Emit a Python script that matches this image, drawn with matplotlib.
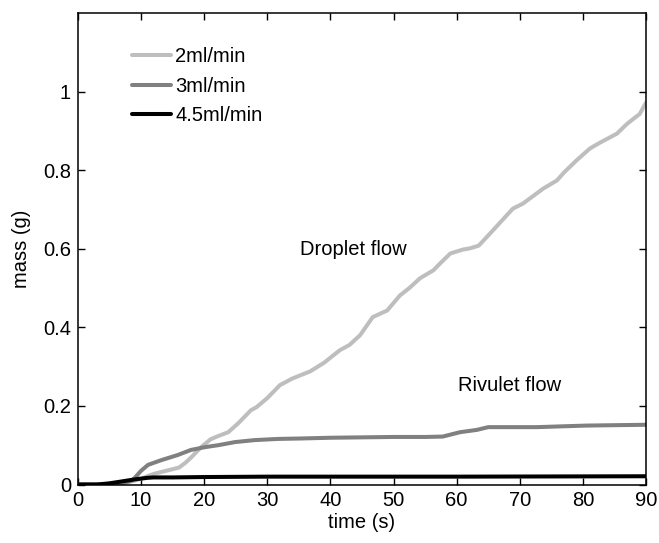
import matplotlib
matplotlib.use("Agg")
import matplotlib.pyplot as plt

plt.rcParams['font.family'] = ['Liberation Sans', 'DejaVu Sans']

t_2 = [0, 5, 7, 9, 10, 12, 14, 16, 17, 18, 19.5, 21, 22, 23.8, 25.4, 27.4, 28.3, 30, 32, 34,
       36.8, 39, 41.5, 43, 44.7, 46.7, 49, 51, 52.5, 54.2, 56.3, 57.4, 59, 61, 62.1, 63.5,
       65.3, 66.9, 68.9, 70.5, 71.6, 73.7, 75.9, 77, 79, 81.1, 82.7, 85.4, 87, 89, 90]
m_2 = [0, 0, 0.002, 0.01, 0.015, 0.027, 0.035, 0.043, 0.055, 0.07, 0.095, 0.115, 0.122, 0.133,
       0.156, 0.189, 0.197, 0.22, 0.253, 0.27, 0.288, 0.31, 0.342, 0.355, 0.38, 0.426, 0.443,
       0.481, 0.5, 0.525, 0.545, 0.563, 0.588, 0.598, 0.601, 0.608, 0.639, 0.667, 0.702, 0.715,
       0.728, 0.753, 0.774, 0.794, 0.825, 0.855, 0.870, 0.893, 0.918, 0.943, 0.972]

t_3 = [0, 5, 7, 8.5, 9, 10, 11.1, 13.2, 15.8, 17.9, 20.1, 22.2, 24.9, 28, 31.7, 35, 40, 45,
       50, 55, 57.8, 60.5, 63.2, 65, 72.7, 80.6, 90]
m_3 = [0, 0, 0.003, 0.01, 0.017, 0.035, 0.05, 0.062, 0.075, 0.088, 0.095, 0.100, 0.108, 0.113,
       0.116, 0.117, 0.119, 0.12, 0.121, 0.121, 0.122, 0.133, 0.139, 0.146, 0.146, 0.150, 0.152]

t_45 = [0, 3, 5, 7, 9, 10, 11, 12, 15, 20, 30, 40, 60, 90]
m_45 = [0, 0, 0.003, 0.008, 0.013, 0.015, 0.017, 0.018, 0.018, 0.019, 0.02, 0.02, 0.02, 0.021]

labels = ['2ml/min', '3ml/min', '4.5ml/min']
colors = ['#bebebe', '#808080', '#000000']
x_ticks = [0, 10, 20, 30, 40, 50, 60, 70, 80, 90]
y_ticks = [0, 0.2, 0.4, 0.6, 0.8, 1]
y_tick_labels = ['0', '0.2', '0.4', '0.6', '0.8', '1']

fig = plt.figure(figsize=(6.59, 5.43), dpi=100)
ax = fig.add_axes([78 / 659, 58.5 / 543, 568 / 659, 471.5 / 543])

for t, m, lab, c in zip([t_2, t_3, t_45], [m_2, m_3, m_45], labels, colors):
    ax.plot(t, m, color=c, lw=2.9, label=lab, solid_capstyle='round', solid_joinstyle='round')

ax.set_xlim(0, 90)
ax.set_ylim(0, 1.2)
ax.set_xticks(x_ticks)
ax.set_yticks(y_ticks)
ax.set_yticklabels(y_tick_labels)
ax.tick_params(direction='in', length=5, width=1, top=True, right=True, labelsize=14.5, pad=5)
for s in ax.spines.values():
    s.set_linewidth(1.1)

ax.set_xlabel('time (s)', fontsize=14.5, labelpad=2)
ax.set_ylabel('mass (g)', fontsize=14.5, labelpad=9)

ax.text(35.2, 0.598, 'Droplet flow', fontsize=14.5, va='center', ha='left')
ax.text(60.2, 0.253, 'Rivulet flow', fontsize=14.5, va='center', ha='left')

ax.legend(loc='upper left', bbox_to_anchor=(0.095, 0.927), frameon=False, fontsize=14.5,
          handlelength=1.95, handletextpad=0.2, labelspacing=0.52, borderpad=0, borderaxespad=0)

fig.savefig('out.png', dpi=100)
